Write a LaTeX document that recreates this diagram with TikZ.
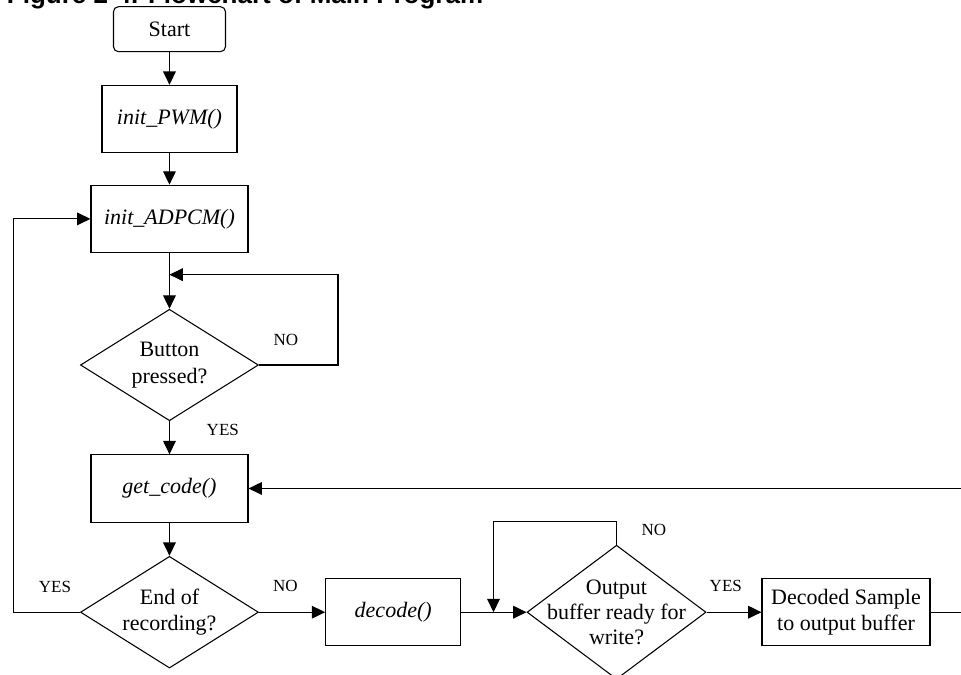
\documentclass[tikz,border=0pt]{standalone}
\usepackage{fontspec}
\setmainfont{Liberation Serif}
\newfontfamily\captionfont{Liberation Sans}
\usetikzlibrary{arrows.meta, shapes.geometric, positioning, calc}

\begin{document}
\begin{tikzpicture}[node distance=92.6pt,
  txt/.style={font=\fontsize{16.5}{20}\selectfont},
  box/.style={draw, line width=0.8pt, txt, inner sep=0pt, minimum height=50.5pt},
  func/.style={box, font=\fontsize{16.5}{20}\selectfont\itshape},
  decision/.style={draw, diamond, line width=0.8pt, txt, align=center, inner sep=0pt,
    shape aspect=1.6, minimum width=133.5pt, minimum height=83.6pt},
  lbl/.style={font=\fontsize{12.75}{14}\selectfont, inner sep=0pt},
  flow/.style={line width=0.8pt, -{Triangle[length=10pt, width=9.5pt]}},
  wire/.style={line width=0.8pt}]
\coordinate (topleft) at (0,0);
\coordinate (botright) at (720.75pt,-506.25pt);
\useasboundingbox (topleft) rectangle (botright);

\node (title) [anchor=base west, inner sep=0pt,
  font=\captionfont\bfseries\fontsize{19.5}{22}\selectfont] at (5pt,-2.6pt)
  {Figure 2-4. Flowchart of Main Program};

% main column
\node (start) [box, rounded corners=3.75pt, minimum width=84pt, minimum height=33.75pt] at (127.1pt,-21.9pt) {Start};
\node (pwm) [func, node distance=67.35pt, below of=start, minimum width=101.25pt] {init\_PWM()};
\node (adpcm) [func, node distance=74.9pt, below of=pwm, minimum width=117.75pt] {init\_ADPCM()};
\node (button) [decision, node distance=109.6pt, below of=adpcm] {Button\\pressed?};
\node (getcode) [func, below of=button, minimum width=117.75pt] {get\_code()};
\node (endrec) [decision, node distance=92.8pt, below of=getcode, minimum height=83.8pt] {End of\\recording?};

% bottom row
\node (decode) [func, node distance=167.8pt, right of=endrec, minimum width=101.25pt] {decode()};
\node (outbuf) [decision, node distance=167.5pt, right of=decode, minimum width=134.25pt, minimum height=100.5pt,
  label={[font=\fontsize{16.5}{18.75}\selectfont, align=center]center:Output\\buffer ready for\\write?}] {};
\node (decoded) [box, align=center, node distance=172.1pt, right of=outbuf, minimum width=126pt] {Decoded Sample\\to output buffer};

\coordinate[below=16.2pt of adpcm.south] (waitin);
\coordinate[right=24.2pt of decode.east] (rejoin);

\path[flow] (start) edge (pwm);
\path[flow] (pwm) edge (adpcm);
\path[flow] (adpcm) edge (button);
\draw[flow] (button.east) -- node[lbl, pos=0.34, yshift=18.75pt] {NO} ++(59.25pt,0) |- (waitin);
\path[flow] (button) edge node[lbl, pos=0.25, xshift=40pt] {YES} (getcode);
\draw[flow] (getcode.east -| botright) -- (getcode);
\path[flow] (getcode) edge (endrec);
\draw[flow] (endrec.west) -- node[lbl, pos=0.375, yshift=19pt] {YES} ++(-50pt,0) |- (adpcm);
\path[flow] (endrec) edge node[lbl, pos=0.4, yshift=19.5pt] {NO} (decode);
\path[flow] (decode) edge (outbuf);
\draw[flow] (outbuf.north) -- node[lbl, pos=0.64, xshift=28pt] {NO} ++(0,17.5pt) -| (rejoin);
\path[flow] (outbuf) edge node[lbl, pos=0.35, yshift=19.7pt] {YES} (decoded);
\draw[wire] (decoded) -- (decoded.east -| botright);
\end{tikzpicture}
\end{document}
